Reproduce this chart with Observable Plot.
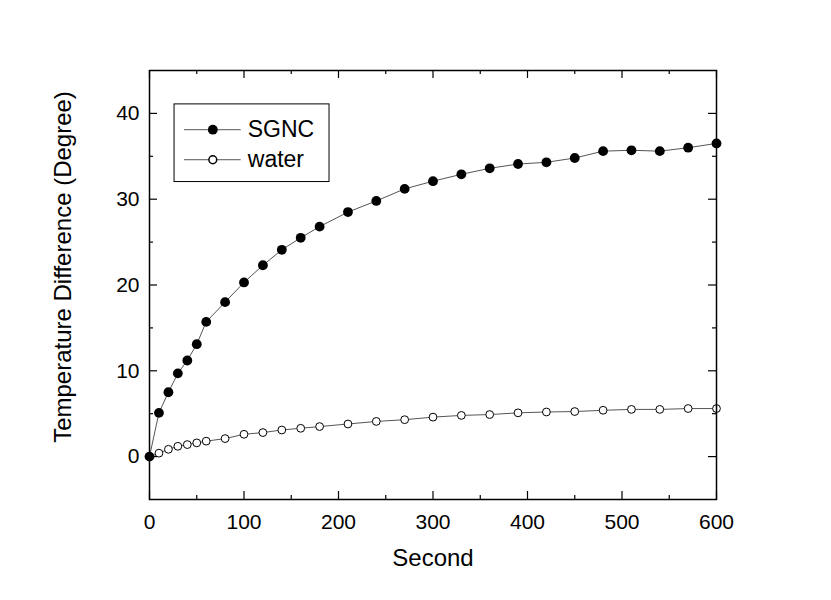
<!DOCTYPE html>
<html><head><meta charset="utf-8">
<script src="https://cdn.jsdelivr.net/npm/d3@7"></script>
<script src="https://cdn.jsdelivr.net/npm/@observablehq/plot@0.6"></script>
<style>body{margin:0;background:#fff;}</style>
</head><body><div id="chart"></div>
<script>
const seconds = [0,10,20,30,40,50,60,80,100,120,140,160,180,210,240,270,300,330,360,390,420,450,480,510,540,570,600];
const sgnc = [0,5.1,7.5,9.7,11.2,13.1,15.7,18.0,20.3,22.3,24.1,25.5,26.8,28.5,29.8,31.2,32.1,32.9,33.6,34.1,34.3,34.8,35.6,35.7,35.6,36.0,36.5];
const water = [0,0.4,0.85,1.2,1.4,1.6,1.8,2.1,2.6,2.8,3.1,3.3,3.5,3.8,4.1,4.3,4.6,4.8,4.9,5.1,5.2,5.25,5.4,5.5,5.5,5.6,5.6];
const xMajor = [0,100,200,300,400,500,600];
const xMinor = [50,150,250,350,450,550];
const yMajor = [0,10,20,30,40];
const yMinor = [5,15,25,35];
const legendLabels = ["SGNC","water"];
const legendY = [38.1,34.6];

const W = 831, H = 600, mL = 149, mR = 115, mT = 70, mB = 101;
const iw = W - mL - mR, ih = H - mT - mB;

const sg = seconds.map((s,i)=>({x:s,y:sgnc[i]}));
const wa = seconds.map((s,i)=>({x:s,y:water[i]}));
const leg = legendLabels.map((l,i)=>({label:l,y:legendY[i],filled:i===0}));

const plot = Plot.plot({
  width: W, height: H,
  marginLeft: mL, marginRight: mR, marginTop: mT, marginBottom: mB,
  style: {fontFamily: "'Liberation Sans', Arial, sans-serif", fontSize: "21px", background: "white", color: "black"},
  x: {domain: [0,600]},
  y: {domain: [-5,45]},
  marks: [
    Plot.line(sg, {x:"x", y:"y", stroke:"#555", strokeWidth:1}),
    Plot.line(wa, {x:"x", y:"y", stroke:"#555", strokeWidth:1}),
    Plot.dot(wa, {x:"x", y:"y", r:3.9, fill:"white", stroke:"black", strokeWidth:1}),
    Plot.dot(sg, {x:"x", y:"y", r:4.9, fill:"black", stroke:"none"}),
    // legend box
    Plot.rect([0], {x1:26.5, x2:190.5, y1:32.0, y2:41.05, fill:"white", stroke:"black", strokeWidth:1}),
    Plot.link(leg, {x1:36.5, x2:96.5, y1:"y", y2:"y", stroke:"#555", strokeWidth:1}),
    Plot.dot(leg.filter(d=>d.filled), {x:67, y:"y", r:4.9, fill:"black", stroke:"none"}),
    Plot.dot(leg.filter(d=>!d.filled), {x:67, y:"y", r:3.9, fill:"white", stroke:"black"}),
    Plot.text(leg, {x:104, y:"y", text:"label", textAnchor:"start", fontSize:23}),
    // inward ticks
    Plot.tickX(xMajor, {x:d=>d, insetTop: ih-8, stroke:"black", strokeWidth:1.2}),
    Plot.tickX(xMajor, {x:d=>d, insetBottom: ih-8, stroke:"black", strokeWidth:1.2}),
    Plot.tickX(xMinor, {x:d=>d, insetTop: ih-4, stroke:"black", strokeWidth:1.2}),
    Plot.tickX(xMinor, {x:d=>d, insetBottom: ih-4, stroke:"black", strokeWidth:1.2}),
    Plot.tickY(yMajor, {y:d=>d, insetRight: iw-8, stroke:"black", strokeWidth:1.2}),
    Plot.tickY(yMajor, {y:d=>d, insetLeft: iw-8, stroke:"black", strokeWidth:1.2}),
    Plot.tickY(yMinor, {y:d=>d, insetRight: iw-4, stroke:"black", strokeWidth:1.2}),
    Plot.tickY(yMinor, {y:d=>d, insetLeft: iw-4, stroke:"black", strokeWidth:1.2}),
    Plot.frame({stroke:"black", strokeWidth:1.5}),
    Plot.axisX({ticks: xMajor, tickSize:0, tickPadding:15, tickFormat: d=>String(d), label:null, fontSize:21}),
    Plot.axisY({ticks: yMajor, tickSize:0, tickPadding:10, tickFormat: d=>String(d), label:null, fontSize:21}),
    Plot.text(["Second"], {frameAnchor:"bottom", textAnchor:"middle", lineAnchor:"middle", dy:59, fontSize:24}),
    Plot.text(["Temperature Difference (Degree)"], {frameAnchor:"left", textAnchor:"middle", lineAnchor:"middle", rotate:-90, dx:-86, dy:-18, fontSize:24})
  ]
});
document.getElementById("chart").appendChild(plot);
</script>
</body></html>
